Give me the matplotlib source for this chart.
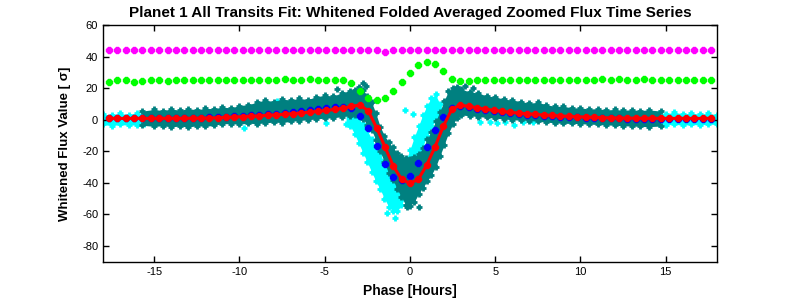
import numpy as np
import matplotlib
matplotlib.use('Agg')
import matplotlib.pyplot as plt

plt.rcParams['font.family'] = ['Liberation Sans', 'DejaVu Sans']
plt.rcParams['axes.unicode_minus'] = False

# Kepler long cadence, used as the fold bin spacing (hours)
cadence_hr = 0.4904
bin_index = np.arange(-36, 37)
phase_bins = bin_index * cadence_hr

# binned curves, one value per bin (-36 .. 36)
magenta_vals = [44.2, 44.2, 44.2, 44.2, 44.2, 44.2, 44.2, 44.2, 44.2, 44.2,
                44.2, 44.2, 44.2, 44.2, 44.2, 44.2, 44.2, 44.2, 44.2, 44.2,
                44.2, 44.2, 44.2, 44.2, 44.2, 44.2, 44.2, 44.2, 44.2, 44.2,
                44.2, 44.2, 44.2, 43.1, 44.2, 44.2, 44.2, 44.2, 44.2, 44.2,
                44.2, 44.2, 44.2, 44.2, 44.2, 44.2, 44.2, 44.2, 44.2, 44.2,
                44.2, 44.2, 44.2, 44.2, 44.2, 44.2, 44.2, 44.2, 44.2, 44.2,
                44.2, 44.2, 44.2, 44.2, 44.2, 44.2, 44.2, 44.2, 44.2, 44.2,
                44.2, 44.2, 44.2]

green_vals = [24.1, 25.2, 25.2, 24.1, 24.5, 25.2, 25.2, 24.5, 25.2, 25.2,
              25.2, 25.2, 25.2, 25.2, 25.2, 25.2, 25.2, 25.2, 25.2, 25.2,
              25.2, 25.8, 25.2, 25.2, 25.8, 25.2, 25.2, 25.2, 25.2,
              23.5, 18.4, 13.6, 12.5, 13.6, 18.4, 24.1, 29.8, 34.7, 36.8,
              35.1, 30.9, 25.8,
              24.5, 24.5, 25.2, 25.2, 25.2, 25.2, 25.2, 25.2, 25.2, 25.2,
              25.2, 25.2, 25.2, 25.2, 25.2, 25.2, 25.2, 25.8, 25.2, 25.8,
              25.2, 25.2, 25.8, 25.2, 25.2, 25.2, 25.2, 25.2, 25.2, 25.2,
              25.2]

blue_vals = [1.2, 1.1, 1.1, 1.1, 1.1, 1.1, 1.1, 1.1, 1.1, 1.2,
             1.2, 1.3, 1.5, 1.7, 2.0, 2.3, 2.5, 2.8, 3.2, 3.5,
             3.9, 4.3, 4.8, 5.3, 5.9, 6.5, 7.2, 7.9, 8.2,
             7.6, 2.4, -5.4, -16.6, -28.2, -36.1, -38.2, -35.7, -27.6, -17.5,
             -6.5, 1.9, 7.6,
             8.6, 7.8, 7.0, 6.2, 5.5, 4.8, 4.3, 3.8, 3.3, 3.0,
             2.6, 2.3, 2.0, 1.8, 1.6, 1.4, 1.2, 1.0, 0.9, 0.8,
             0.7, 0.6, 0.6, 0.5, 0.5, 0.5, 0.5, 0.5, 0.6, 0.6,
             0.5]

red_vals = [0.9, 0.9, 0.8, 0.9, 0.9, 0.8, 0.9, 0.9, 0.9, 0.9,
            1.0, 1.0, 1.1, 1.3, 1.5, 1.7, 2.0, 2.2, 2.5, 2.8,
            3.1, 3.5, 3.9, 4.3, 4.8, 5.3, 5.9, 6.5, 7.2,
            8.5, 9.3, 5.7, -5.0, -17.1, -29.3, -37.7, -40.3, -37.7, -28.7,
            -17.1, -4.0, 6.6,
            9.2, 8.5, 7.6, 6.7, 6.0, 5.3, 4.7, 4.2, 3.8, 3.4,
            3.0, 2.7, 2.4, 2.1, 1.9, 1.7, 1.5, 1.3, 1.2, 1.1,
            1.0, 1.0, 0.9, 0.9, 0.9, 0.8, 0.9, 0.9, 0.8, 0.9,
            0.9]

# dense teal scatter: lower / upper extent
teal_phase = [-15.7, -15.0, -14.5, -14.0, -13.5, -13.0, -12.5, -12.0, -11.5, -11.0,
              -10.5, -10.0, -9.5, -9.0, -8.5, -8.0, -7.5, -7.0, -6.5, -6.0,
              -5.5, -5.0, -4.5, -4.0, -3.5,
              -3.25, -3.0, -2.75, -2.5, -2.25, -2.0, -1.75, -1.5, -1.25, -1.0,
              -0.75, -0.5, -0.25, 0.0, 0.25, 0.5, 0.75, 1.0, 1.25, 1.5,
              1.75, 2.0, 2.25, 2.5, 2.75,
              3.0, 3.5, 4.0, 4.5, 5.0, 5.5, 6.0, 6.5, 7.0, 7.5,
              8.0, 8.5, 9.0, 9.5, 10.0, 10.5, 11.0, 11.5, 12.0, 12.5,
              13.0, 13.5, 14.0, 14.7]
teal_high = [5.5, 6.5, 5.8, 6.8, 6.0, 7.0, 6.3, 7.2, 7.0, 8.0,
             7.5, 9.0, 9.5, 11.0, 12.5, 11.5, 13.0, 12.5, 13.5, 12.8,
             14.5, 15.5, 15.0, 17.0, 18.5,
             19.0, 20.5, 19.0, 15.0, 11.0, 4.0, -4.4, -10.0, -14.0, -17.5,
             -21.0, -23.0, -24.5, -25.0, -23.5, -21.5, -18.0, -12.5, -7.5, -1.0,
             5.0, 12.0, 18.0, 20.0, 21.0,
             19.5, 17.5, 17.0, 15.0, 14.5, 13.0, 12.5, 11.5, 10.5, 11.0,
             9.5, 8.5, 8.5, 7.5, 7.5, 6.8, 7.0, 6.2, 6.5, 6.0,
             6.3, 5.8, 6.2, 5.5]
teal_low = [-3.5, -4.2, -3.8, -4.5, -4.0, -4.6, -3.8, -4.2, -3.5, -2.5,
            -2.5, -2.8, -2.2, -2.5, -2.0, -1.5, -1.8, -1.0, -0.5, 0.0,
            0.5, 1.0, 1.2, 2.0, 2.5,
            3.0, 2.5, 0.5, -3.5, -6.5, -13.0, -20.0, -27.0, -34.0, -38.0,
            -44.0, -49.0, -54.0, -54.5, -52.0, -47.0, -43.0, -39.0, -35.0, -30.0,
            -23.0, -16.0, -8.6, -3.0, 1.0,
            3.0, 2.5, 2.0, 1.5, 1.0, 0.5, 0.0, -0.3, -0.5, -1.0,
            -1.5, -2.0, -2.3, -2.3, -2.5, -2.8, -3.0, -3.3, -3.5, -3.8,
            -4.0, -4.2, -4.4, -4.0]
teal_out_phase = [-2.75, -2.6, 3.2, -0.2, 0.5, -4.3, 3.7]
teal_out_vals = [23.0, 21.5, 21.4, -55.5, -55.0, 19.5, 20.0]

# cyan scatter: visible at both ends and in the (shifted) dip
cyan_left_phase = [-18.0, -17.5, -17.0, -16.5, -16.0, -15.6]
cyan_left_low = [-3.0, -3.8, -3.0, -3.5, -3.2, -3.0]
cyan_left_high = [3.5, 3.0, 4.0, 3.2, 4.5, 3.5]
cyan_right_phase = [14.6, 15.0, 15.5, 16.0, 16.5, 17.0, 17.5, 18.0]
cyan_right_low = [-3.0, -3.3, -2.8, -3.5, -3.0, -3.3, -2.8, -3.0]
cyan_right_high = [4.5, 3.5, 4.8, 3.6, 4.2, 3.5, 4.0, 3.2]
cyan_dip_phase = [-3.75, -3.5, -3.25, -3.0, -2.75, -2.5, -2.25, -2.0, -1.75, -1.5,
                  -1.25, -1.0, -0.75, -0.5, -0.25, 0.0, 0.25, 0.5, 0.75, 1.0,
                  1.25, 1.5, 1.75, 2.0]
cyan_dip_low = [-3.0, -4.0, -9.0, -15.0, -21.0, -27.0, -33.0, -39.0, -44.0, -50.0,
                -55.0, -58.0, -58.0, -54.0, -48.0, -40.0, -32.0, -25.0, -17.0, -10.0,
                -4.0, -1.0, -2.0, -3.0]
cyan_dip_high = [4.0, 4.0, 3.0, 1.0, -3.0, -7.0, -12.0, -17.0, -22.0, -27.0,
                 -32.0, -36.0, -36.0, -33.0, -26.0, -19.0, -11.0, -4.0, 3.0, 9.0,
                 14.0, 16.0, 10.0, 4.0]
cyan_out_phase = [-9.75, -9.1, -7.8, -4.9, -3.9, -3.3, -0.29, 0.2, -1.37, -0.88,
                  4.1, 4.7, 5.1, 5.6, 6.1, 6.6, 7.2, 8.4]
cyan_out_vals = [-5.4, 8.3, 12.0, -1.8, 15.7, -2.3, 6.2, 3.5, -59.3, -62.4,
                 -1.6, -1.2, -2.3, -1.6, -3.3, -1.6, -1.6, -0.2]

fig = plt.figure(figsize=(7.93, 3.01), dpi=100)
ax = fig.add_axes([0.130, 0.130, 0.774, 0.787])

cyan = '#00FFFF'
teal = '#008080'
for ph, lo, hi in [(cyan_left_phase, cyan_left_low, cyan_left_high),
                   (cyan_dip_phase, cyan_dip_low, cyan_dip_high),
                   (cyan_right_phase, cyan_right_low, cyan_right_high)]:
    ax.fill_between(ph, lo, hi, color=cyan, lw=0, zorder=1)
    ax.plot(ph, lo, '+', color=cyan, ms=5, mew=2, zorder=1)
    ax.plot(ph, hi, '+', color=cyan, ms=5, mew=2, zorder=1)
ax.plot(cyan_out_phase, cyan_out_vals, '+', color=cyan, ms=5, mew=2, zorder=1)

ax.fill_between(teal_phase, teal_low, teal_high, color=teal, lw=0, zorder=2)
ax.plot(teal_phase, teal_low, '+', color=teal, ms=5, mew=2, zorder=2)
ax.plot(teal_phase, teal_high, '+', color=teal, ms=5, mew=2, zorder=2)
ax.plot(teal_out_phase, teal_out_vals, '+', color=teal, ms=5, mew=2, zorder=2)

ax.plot(phase_bins, magenta_vals, '8', color='#FF00FF', ms=4.5, ls='none', zorder=3)
ax.plot(phase_bins, green_vals, '8', color='#00FF00', ms=4.5, ls='none', zorder=3)
ax.plot(phase_bins, blue_vals, '8', color='#0000FF', ms=4.5, ls='none', zorder=4)
ax.plot(phase_bins, red_vals, '-8', color='#FF0000', ms=4.5, lw=2.2, zorder=5)

ax.set_xlim(-18, 18)
ax.set_ylim(-90, 60)
ax.set_xticks([-15, -10, -5, 0, 5, 10, 15])
ax.set_yticks([-80, -60, -40, -20, 0, 20, 40, 60])
ax.tick_params(direction='in', length=4, width=1, labelsize=8, top=True, right=True,
               colors='black')
for s in ax.spines.values():
    s.set_linewidth(1)

ax.set_title('Planet 1 All Transits Fit: Whitened Folded Averaged Zoomed Flux Time Series',
             fontsize=11, fontweight='bold', pad=6)
ax.set_xlabel('Phase [Hours]', fontsize=10, fontweight='bold', labelpad=5)
ax.set_ylabel('Whitened Flux Value [ \u03c3]', fontsize=9.5, fontweight='bold', labelpad=8)

fig.savefig('out.png', dpi=100)
